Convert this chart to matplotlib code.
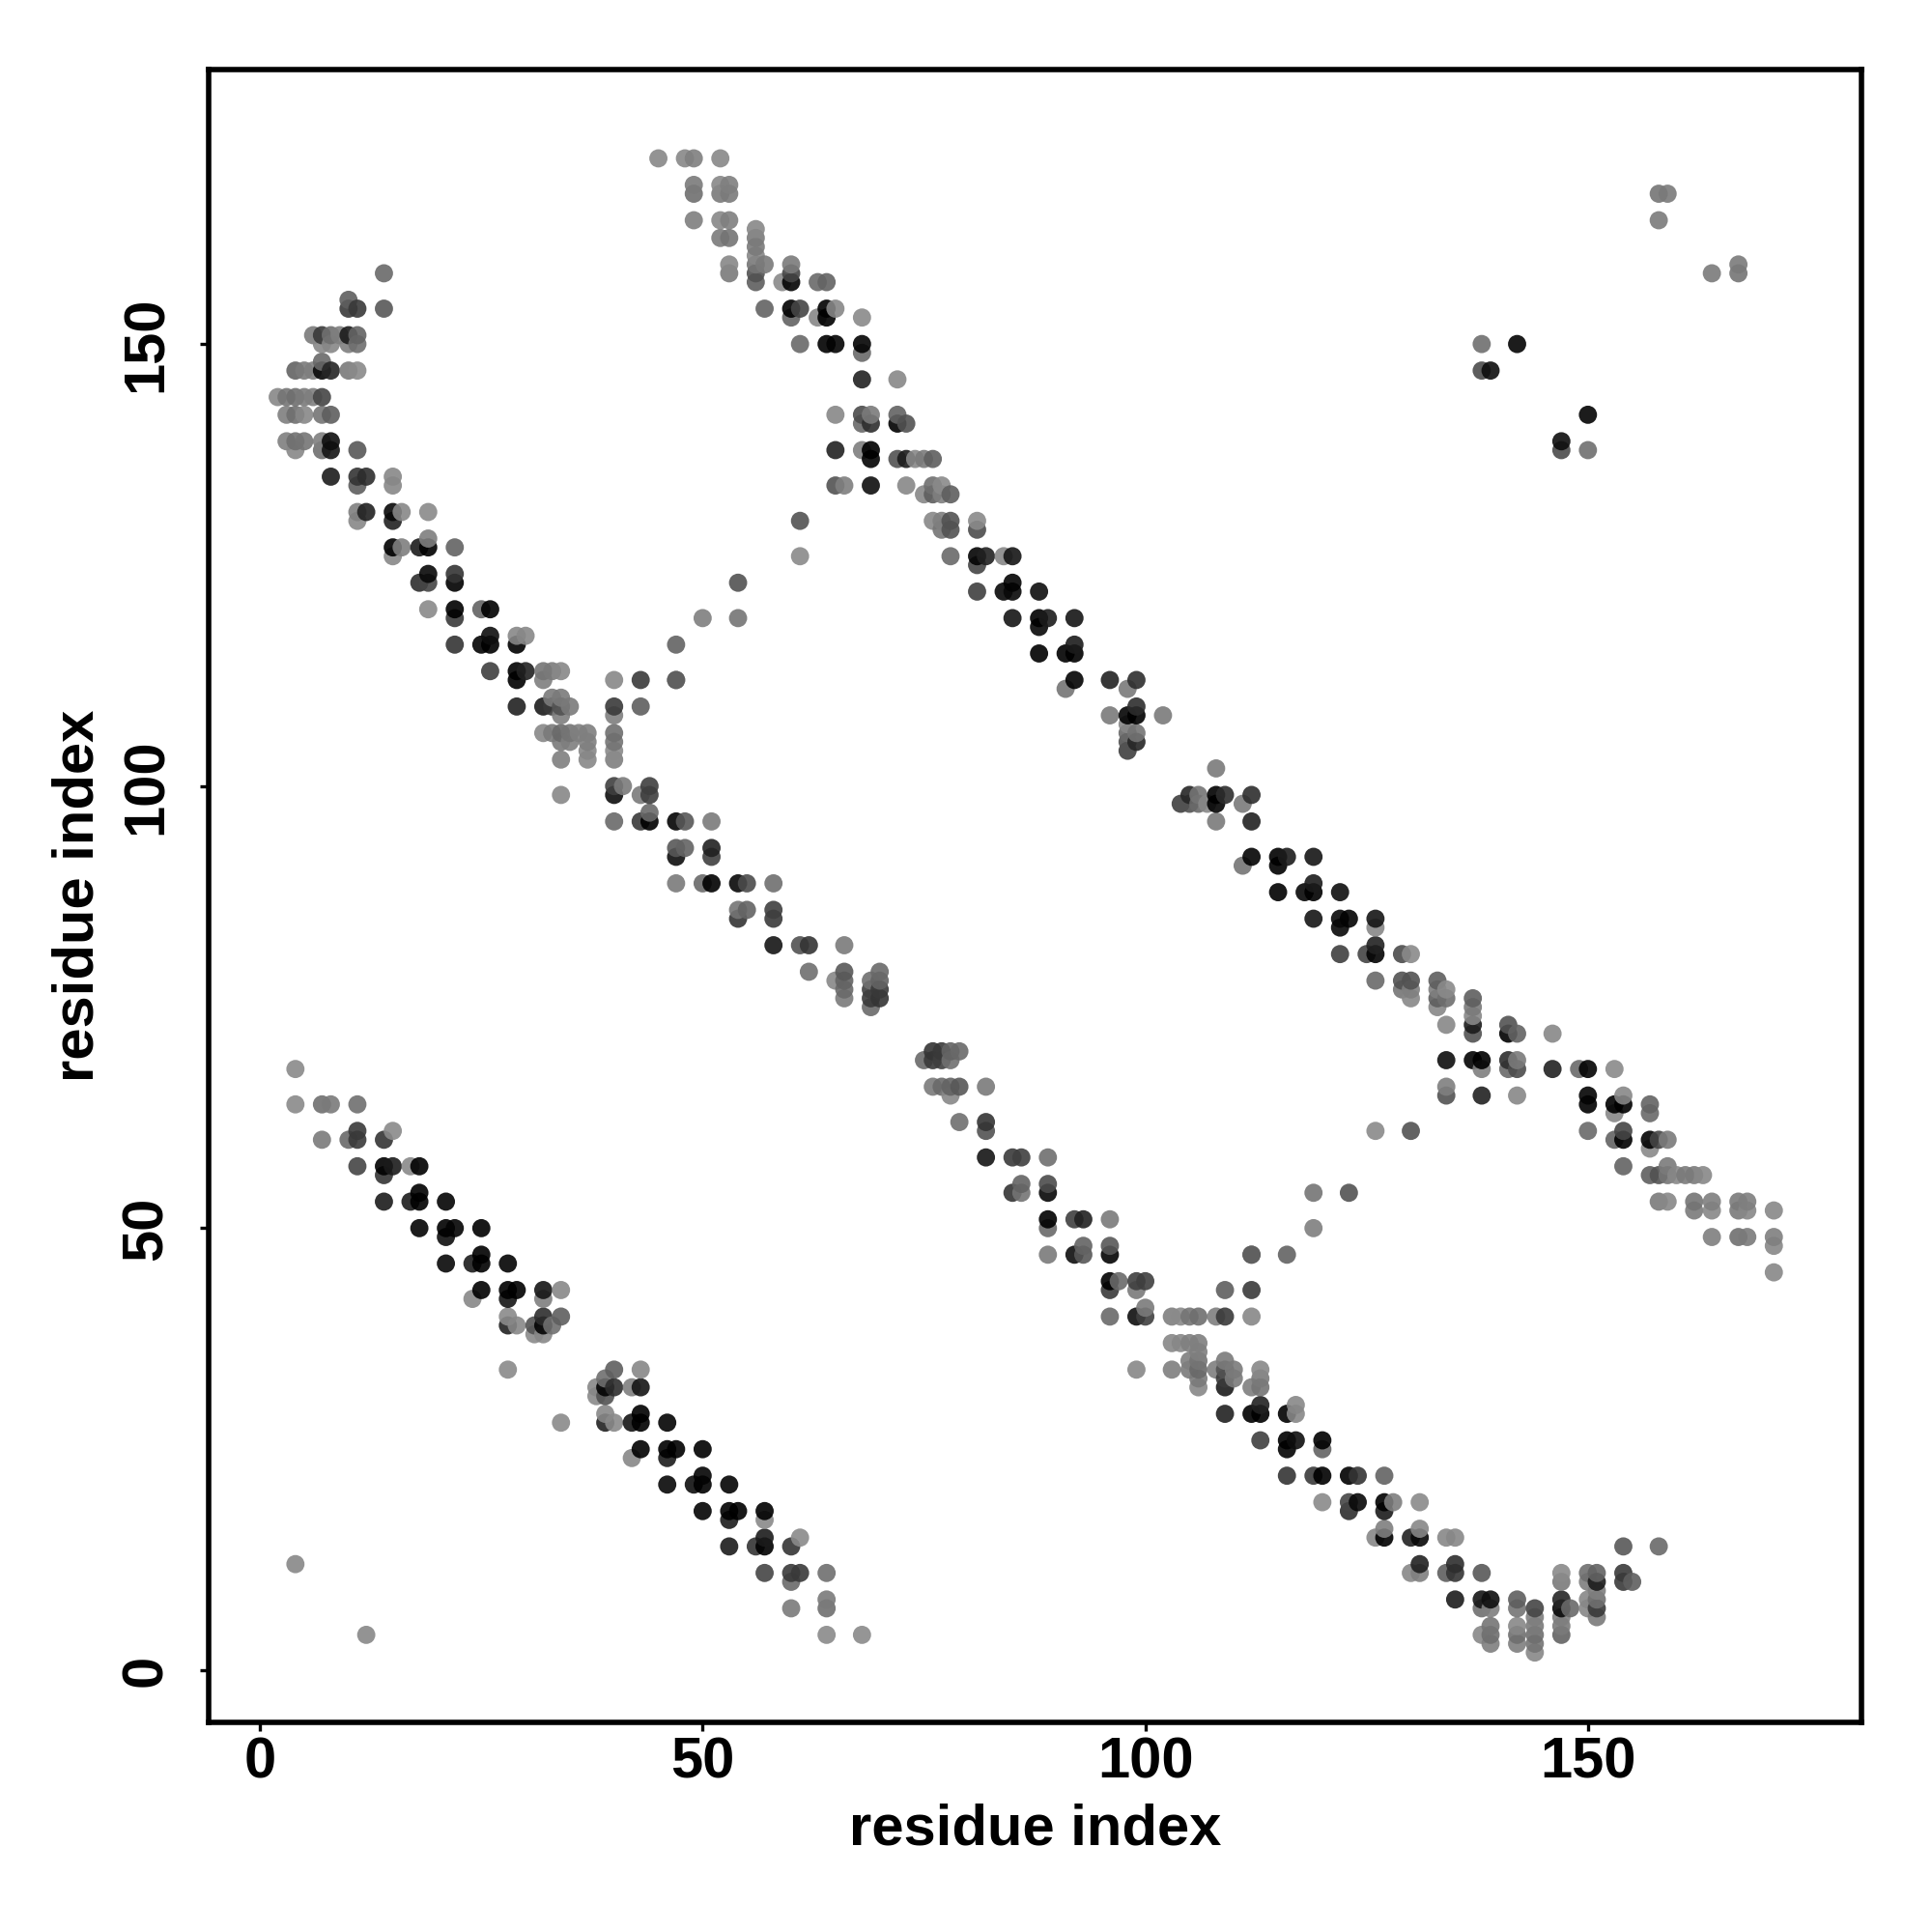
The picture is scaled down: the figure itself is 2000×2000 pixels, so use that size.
#Contact map of a protein, symmetric about the diagonal
import matplotlib
matplotlib.use("Agg")
import matplotlib.pyplot as plt
import numpy as np

plt.rcParams['font.family'] = ['Liberation Sans', 'DejaVu Sans']

#Each contact is (residue i, residue j, grey level); the mirror (j, i) is added below
hairpin_band = [
    (4,68,150),(4,64,150),(7,64,125),(8,64,135),(11,64,125),
    (7,60,135),(10,60,120),(11,60,77),(11,61,77),(14,60,72),(15,61,150),
    (11,57,88),(14,57,16),(15,57,50),(14,56,72),(17,57,150),(18,57,22),
    (18,54,5),(14,53,50),(17,53,50),(18,53,5),(21,53,28),
    (18,50,28),(21,50,5),(22,50,28),(25,50,16),(21,49,38),
    (25,47,11),(21,46,33),(24,46,50),(25,46,11),(28,46,28),
    (25,43,22),(28,43,5),(29,43,16),(32,43,44),(34,43,147),
    (24,42,147),(28,42,44),(32,42,140),
    (28,40,150),(32,40,66),(34,40,110),
    (28,39,55),(29,39,147),(31,39,99),(32,39,28),(33,39,125),
    (31,38,150),(32,38,147),(28,34,150),
]

long_band = [
    (75,69,120),(76,70,72),(76,69,77),(77,70,77),(77,69,82),(78,70,115),(78,69,125),(79,70,120),
    (76,66,135),(77,66,120),(78,66,115),(79,66,105),(82,66,135),(78,65,147),
    (79,62,125),(82,62,72),(82,61,99),
    (82,58,44),(85,58,77),(86,58,82),(89,58,125),
    (85,54,72),(86,54,130),(86,55,115),(89,55,93),(89,54,33),
    (89,51,5),(89,50,120),(92,51,82),(93,51,55),(96,51,135),
    (89,47,135),(92,47,38),(93,48,115),(93,47,105),(96,48,105),(96,47,28),
    (96,44,5),(96,43,77),(97,44,120),(99,44,82),(99,43,135),(100,44,82),
    (96,40,120),(99,40,38),(100,41,135),(100,40,82),
    (103,40,140),(104,40,150),(105,40,130),(106,40,125),(108,40,140),(109,40,77),(112,40,147),
    (109,43,110),(112,43,77),(112,47,110),(116,47,115),
    (103,37,147),(104,37,147),(105,37,140),(106,37,140),(106,36,140),
    (99,34,147),(103,34,140),(105,35,140),(105,34,135),(106,35,130),(106,34,120),(106,33,135),(106,32,147),
    (108,34,140),(109,35,135),(109,34,99),(109,33,77),(109,32,50),(110,34,135),(110,33,135),
    (112,32,140),(113,34,147),(113,33,135),(113,32,130),(113,30,55),
    (109,29,55),(112,29,5),(113,29,11),(116,29,5),(117,30,147),(117,29,147),
    (113,26,82),(116,26,5),(116,25,28),(117,26,38),(120,26,5),(120,25,115),
    (116,22,72),(119,22,77),(120,22,5),(123,22,11),(124,22,72),(127,22,115),
    (120,19,150),(123,19,88),(123,18,66),(124,19,33),(127,19,5),(127,18,50),(128,19,140),(131,19,150),
    (126,15,147),(127,16,140),(127,15,5),(130,15,55),(131,16,147),(131,15,33),(134,15,147),(135,15,147),
    (130,11,147),(131,12,55),(131,11,140),(134,11,110),(135,12,66),(135,11,72),(138,11,105),
    (135,8,50),(138,8,44),(138,7,125),(139,8,38),(139,7,140),(139,5,130),(138,4,147),(139,4,125),(139,3,140),
    (142,8,110),(142,7,130),(142,5,147),(142,4,125),(142,3,140),
    (144,7,88),(144,6,140),(144,5,135),(144,4,125),(144,3,130),(144,2,147),
    (147,11,150),(147,10,135),(147,8,60),(147,7,33),(147,6,140),(147,5,135),(147,4,115),(148,7,120),
    (150,11,125),(150,10,140),(150,8,147),(150,7,147),
    (151,11,115),(151,10,50),(151,9,140),(151,8,125),(151,7,77),(151,6,135),
    (154,14,105),(154,11,77),(154,10,77),(155,10,110),(158,14,120),
]

upper_band = [
    (45,171,147),(48,171,147),(49,171,140),(52,171,147),
    (49,168,135),(52,168,147),(53,168,140),(49,167,125),(52,167,135),(53,167,135),
    (49,164,140),(52,164,147),(53,164,140),(52,162,135),(53,162,130),
    (56,163,147),(56,162,135),(56,161,135),(56,160,147),(56,159,130),(56,158,99),(56,157,110),(57,159,135),
    (53,159,147),(53,158,135),
    (59,157,150),(60,159,135),(60,158,88),(60,157,28),(63,157,120),(64,157,115),
    (57,154,115),(60,154,11),(61,154,88),(60,153,115),(63,153,147),(64,154,22),(64,153,22),(65,154,147),(68,153,150),
    (61,150,120),(64,150,11),(65,150,28),(68,150,28),(68,149,120),(68,146,55),(72,146,147),
    (65,142,147),(68,142,93),(69,142,135),(72,142,115),
    (68,141,120),(69,141,66),(72,141,5),(73,141,99),
    (65,138,55),(68,138,140),(69,138,11),(69,137,28),
    (72,137,99),(73,137,50),(74,137,147),(75,137,135),(76,137,110),
    (65,134,99),(66,134,140),(69,134,38),(73,134,147),
    (75,133,147),(76,134,125),(76,133,110),(77,134,150),(77,133,140),(78,133,110),
    (61,130,99),(76,130,147),(77,130,140),(78,130,99),(81,130,150),(77,129,130),(78,129,99),(81,129,93),
    (61,126,150),(78,126,120),(81,126,28),(82,126,55),(84,126,147),(85,126,44),(81,125,88),
    (81,122,82),(84,122,33),(85,122,33),(85,123,28),(88,122,38),
    (85,119,44),(88,119,5),(89,119,50),(92,119,44),(88,118,33),
    (88,115,16),(91,115,11),(92,115,11),(92,116,50),
    (92,112,28),(96,112,55),(99,112,66),(91,111,130),(98,111,135),
    (99,109,66),(96,108,135),(98,108,28),(99,108,22),(102,108,135),
    (98,107,147),(98,106,120),(99,106,130),(98,105,99),(99,105,60),(98,104,82),
]

#Odd contacts away from the three bands
cross_links = [(47,112,120),(47,116,115),(50,119,140),(54,119,130),(54,123,99)]
near_diagonal = [(4,12,147),(138,150,125),(142,150,28),(138,147,93),(139,147,38),
                 (158,164,135),(158,167,130),(159,167,135)]

tick_values = [0, 50, 100, 150]
axis_label = "residue index"

#Mirror every contact, then sort so later columns paint over earlier ones like the original
contacts = hairpin_band + long_band + upper_band + cross_links + near_diagonal
contacts = contacts + [(j, i, g) for i, j, g in contacts]
contacts = sorted(set(contacts), key=lambda c: (c[0], c[1]))
x = np.array([c[0] for c in contacts])
y = np.array([c[1] for c in contacts])
grey = np.array([c[2] for c in contacts], dtype=float)

#Points are slightly see through; correct the colour so a lone point shows the grey
alpha = 0.9
fill = np.clip((grey - (1 - alpha) * 255) / alpha, 0, 255) / 255
colors = [(g, g, g, alpha) for g in fill]

fig = plt.figure(figsize=(10, 10), dpi=200)
ax = fig.add_axes([216/2000, 1 - 1783/2000, 1711/2000, 1711.5/2000])
ax.scatter(x, y, s=46, c=colors, linewidths=0)

ax.set_xlim(-5.8, 180.9)
ax.set_ylim(-5.9, 181.1)
ax.set_xticks(tick_values)
ax.set_yticks(tick_values)
ax.tick_params(length=3.2, width=1.2, labelsize=21.5)
ax.tick_params(axis='x', pad=2)
ax.tick_params(axis='y', pad=10)
for lab in ax.get_xticklabels() + ax.get_yticklabels():
    lab.set_fontweight('bold')
for lab in ax.get_yticklabels():
    lab.set_rotation(90)
    lab.set_va('center')
for s in ax.spines.values():
    s.set_linewidth(2.0)

ax.set_xlabel(axis_label, fontsize=21.5, fontweight='bold')
ax.set_ylabel(axis_label, fontsize=21.5, fontweight='bold')
ax.xaxis.set_label_coords(0.5, -0.049)
ax.yaxis.set_label_coords(-0.063, 0.5)

fig.savefig("out.png", dpi=200)
